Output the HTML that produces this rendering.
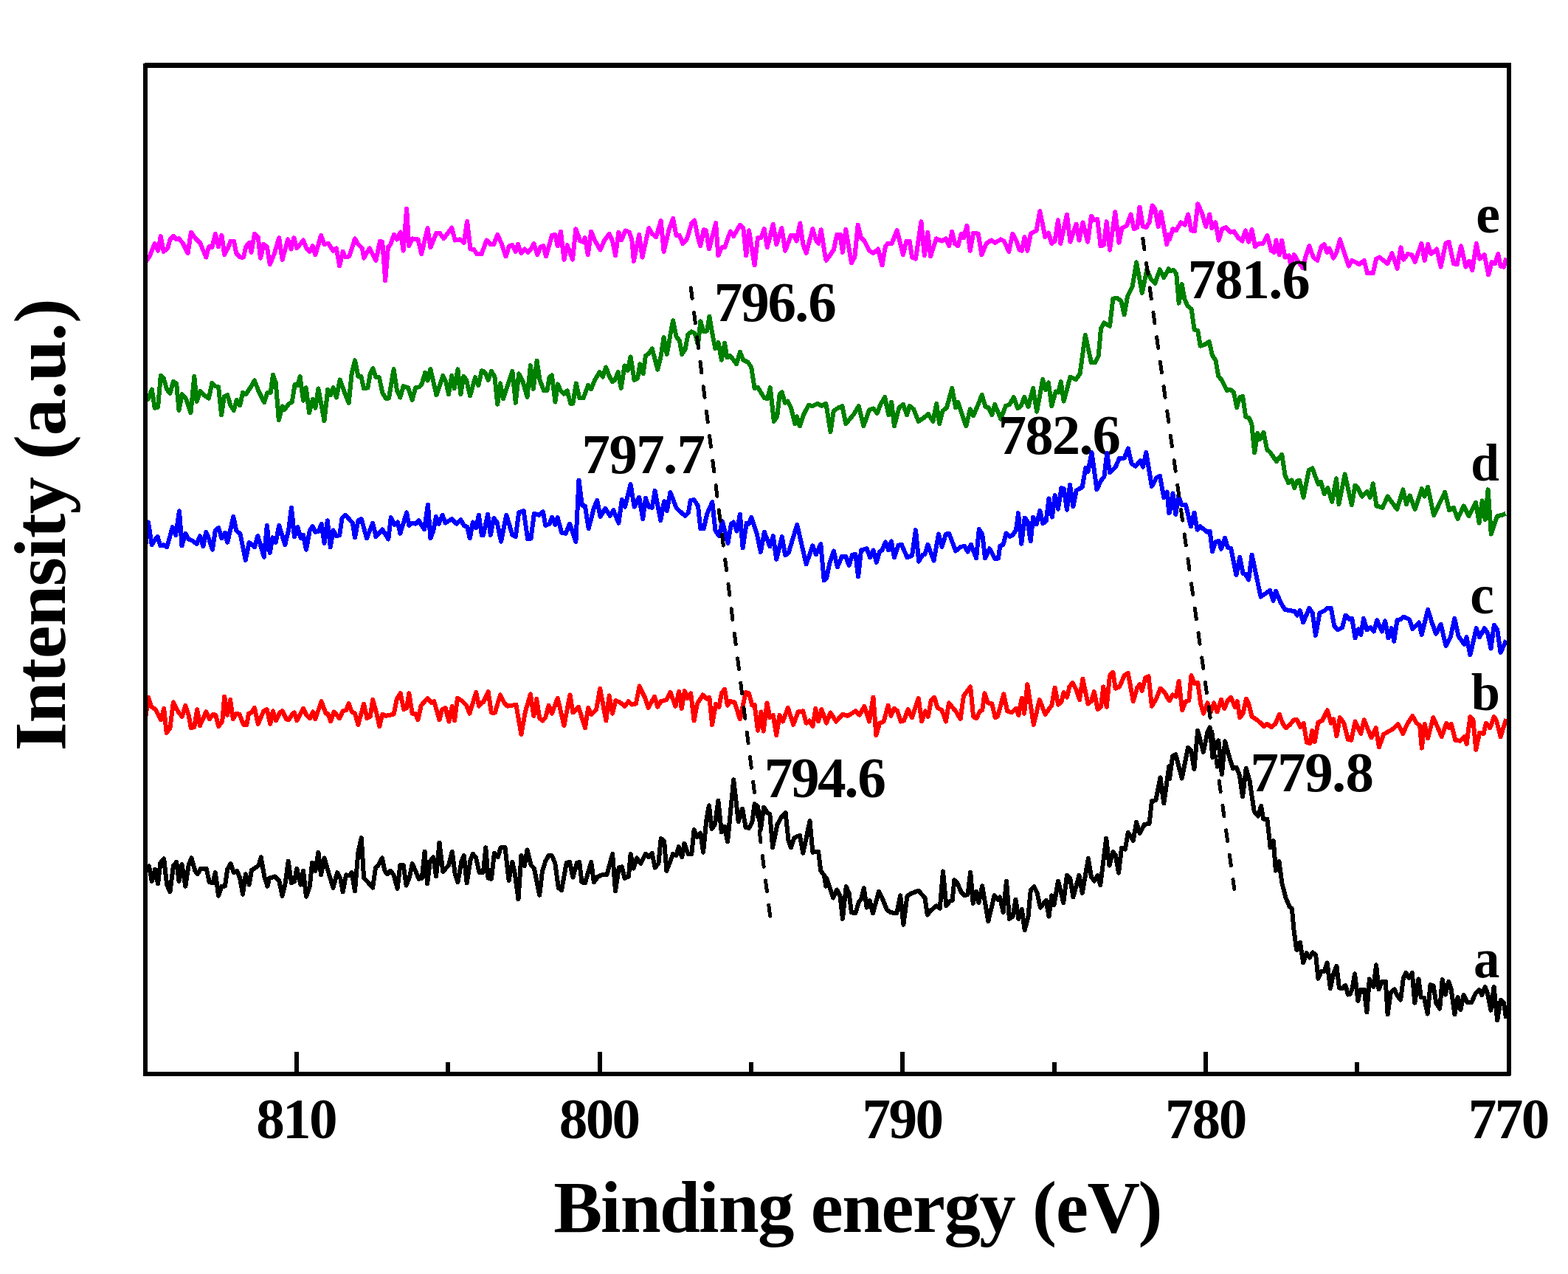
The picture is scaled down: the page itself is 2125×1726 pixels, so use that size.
<!DOCTYPE html>
<html lang="en">
<head>
<meta charset="utf-8">
<title>Intensity (a.u.) vs Binding energy (eV)</title>
<style>
html,body{margin:0;padding:0;background:#fff;}
body{width:2125px;height:1726px;overflow:hidden;}
svg{display:block;}
text{font-family:'Liberation Serif', 'DejaVu Serif', serif;font-weight:bold;fill:#000;}
.cv{fill:none;stroke-width:6;stroke-linejoin:round;stroke-linecap:butt;shape-rendering:crispEdges;}
.ds{fill:none;stroke:#000;stroke-width:5;stroke-linecap:round;stroke-dasharray:14.8 18.93;shape-rendering:crispEdges;}
</style>
</head>
<body>
<svg width="2125" height="1726" viewBox="0 0 2125 1726">
<rect x="0" y="0" width="2125" height="1726" fill="#fff"/>
<defs><clipPath id="plot"><rect x="197" y="88" width="1848" height="1367"/></clipPath></defs>
<g id="curves-back" clip-path="url(#plot)">
<polyline class="cv" stroke="#ff00ff" points="196.6,356.1 203.1,346.3 209.7,329.9 214.1,339.7 217.8,320 221.7,340.8 227.2,336.4 230.5,324.4 234.9,320 239.2,324.4 242.5,323.3 248,329.9 254.6,343 258.9,314.6 264.4,322.2 271,328.8 279.3,348.5 283,334.2 287.4,335.3 291.8,316.7 296.1,334.2 300.5,318.9 304.2,345.2 309.3,335.3 312.5,326.6 316.9,326.6 320.2,343 325.7,348.5 330,348.5 333.3,334.2 337.7,328.8 340.6,341.9 344.9,316.7 349.7,321.1 353,349.6 357.4,331 361.8,334.2 365.7,358.3 371.6,344.1 378.2,322.2 382.6,351.8 390.2,324.4 394.6,337.5 398.3,322.2 402.3,336.4 411,325.5 415.4,336.4 419.8,340.8 423.7,333.2 427.4,345.2 435.1,318.9 439.5,331 444.9,329.9 451.5,339.7 455.9,336.4 460.2,360.5 464.6,340.8 467.9,348.5 473.4,347.4 481,323.3 485.4,331 490.9,336.4 493.1,349.6 500.7,336.4 509.5,352.8 515,326.6 518.2,327.7 522.2,380.2 525.9,335.3 529.2,331 534,317.8 537.9,324.4 542.7,314.6 546.7,339.7 551.1,282.8 554.3,333.2 558.7,323.3 566.4,324.4 571.2,344.1 579.5,309.1 583.4,335.3 591.5,315.6 595.9,315.6 601.4,323.3 612.3,308.6 616.7,325.5 623.3,324.4 628.7,328.8 633.1,299.9 637.5,337.5 641.9,337.5 646.2,344.1 652.8,344.1 655,337.5 659.4,325.5 664.8,331 669.2,331 674.3,317.8 679.1,328.8 685.6,347.4 690,333.2 694.4,332.1 698.8,340.8 702,331 706.4,343 710.8,337.5 715.2,341.9 719.6,337.5 723.5,329.9 728.3,345.2 732.7,334.2 736.4,333.2 739.9,347.4 744.7,331 748,318.9 752.4,317.8 755.7,333.2 760,313.5 764.4,351.8 768.8,332.1 776,351.8 780.4,310.2 786.3,326.6 789.6,327.7 792.9,322.2 796.8,345.2 801.2,313.5 806,325.5 813.6,338.6 819.1,325.5 825.7,316.7 830.1,326.6 834,346.3 838.4,314.6 842.1,325.5 847.6,312.4 853,314.6 856.3,324.4 858.9,353.9 866.2,317.8 870.5,348.5 879.3,309.1 883.7,316.7 889.1,321.1 895.7,299.2 899.6,340.8 906.6,311.3 912.1,296 916.5,318.9 920.9,318.9 925.2,329.9 930.7,324.4 937.3,302.5 941.2,298.6 946,322.2 949.3,333.2 953.7,311.3 957,312.4 960.9,337.5 970.1,302.1 973.4,346.3 977.8,335.3 982.1,335.3 989.8,313.5 994.2,320 1002.9,304.7 1007.3,309.1 1011.2,346.3 1015,312.4 1022.6,359.4 1027,322.2 1031.4,322.2 1035.8,310.2 1039.7,335.3 1047.8,303.6 1052.2,331 1059.4,309.1 1064.2,339.7 1071.9,318.9 1076.2,318.9 1079.5,326.6 1084.3,302.5 1088.3,331 1092.6,343 1101.4,310.2 1105.8,325.5 1109.1,329.9 1112.8,311.3 1118.9,350.7 1120,352.8 1124.4,346.3 1129.8,338.6 1134.2,317.8 1138.6,317.8 1141.9,341.9 1146.3,310.8 1153.9,356.1 1158.3,348.5 1162.7,304.7 1167,322.2 1171.4,326.6 1178,339.7 1183.5,343 1190,337.5 1195.5,359.4 1199.9,334.2 1203.2,329.9 1208.6,329.9 1215.6,311.9 1223.9,345.2 1228.3,326.6 1232.7,326.6 1236,348.5 1241,350.7 1248.4,300.3 1252.8,346.3 1257.2,314.6 1261.1,347.4 1268.8,323.3 1276.5,326.6 1281.9,323.3 1286.3,333.2 1290.2,313.5 1294,329.9 1298.3,333.2 1302.7,316.7 1306,322.2 1310.4,305.8 1314.8,339.7 1319.1,315.6 1325.7,316.7 1330.5,345.2 1336.6,329.9 1343.2,325.5 1348.7,328.8 1356.3,324.4 1360.7,326.6 1367.3,340.8 1372.3,316.7 1377.1,325.5 1381.5,338.6 1384.8,339.7 1388.5,321.1 1392.4,339.7 1396.8,316.7 1404.5,312.4 1409.3,286.1 1416.5,321.1 1420.9,315.6 1425.3,329.9 1429.6,326.6 1434,298.1 1437.3,329.9 1446,290.5 1450.4,327.7 1458.5,303.6 1462.5,325.5 1467.5,301.4 1474.1,327.7 1478.9,292.7 1483.2,298.1 1487.2,297 1491.6,333.2 1495.9,332.1 1499.7,300.3 1504,338.6 1511.3,287.2 1516.5,328.8 1520.4,309.1 1527,305.8 1532.5,290.5 1536.9,310.2 1541.2,308 1544.5,280.6 1548.9,306.9 1553.3,308 1557.6,301.4 1561.6,278.4 1565.3,282.8 1569.7,306.9 1573.4,287.2 1581.3,331 1584.3,317.8 1585,324.4 1589.4,310.2 1593.8,312.4 1600.3,301.4 1605.8,304.7 1610.2,290.5 1614.5,312.4 1618.9,313.5 1623.3,276.3 1628.8,288.3 1634.2,306.9 1639.3,290.5 1642.3,309.1 1647.4,301.4 1651.7,325.5 1656.1,310.2 1661.6,308 1667.1,314.6 1672.5,313.5 1678,322.2 1683.5,326.6 1687.8,312.4 1692.2,327.7 1696.6,311.3 1701,334.2 1706.4,329.9 1711.9,329.9 1717.4,318.9 1722.9,339.7 1726.8,341.9 1729.4,325.5 1733.8,345.2 1737.1,325.5 1741.5,348.5 1746.9,346.3 1749.1,359.4 1753.9,345.2 1759,353.9 1765.5,362.7 1769.9,346.3 1774.3,333.2 1779.8,348.5 1785.2,352.8 1790.7,334.2 1794.6,331 1798.4,341.9 1801.6,336.4 1807.1,349.6 1811.5,341.9 1815.9,324.4 1822.4,344.1 1827.9,360.5 1832.3,352.8 1836.6,355 1842.1,358.3 1848.7,352.8 1853.1,370.4 1860.7,370.4 1865.1,350.7 1869.5,348.5 1874.9,352.8 1880.4,357.2 1886.5,343 1893.5,363.8 1898.4,335.3 1902.3,351.8 1907.8,344.1 1913.2,345.2 1917.6,355 1926.4,329.9 1930.7,352.8 1935.1,331 1939.5,344.1 1947.2,337.5 1952.6,361.6 1959.2,329.9 1963.6,327.7 1970.1,357.2 1974.5,358.3 1980,333.2 1986.5,361.6 1990.9,353.9 1995.3,366 2000.8,329.9 2005.1,350.7 2011.7,345.2 2017.2,372.5 2021.6,355 2025.9,357.2 2030.3,344.1 2033.6,360.5 2038,361.6 2041.2,349.6"/>
<polyline class="cv" stroke="#008000" points="196.6,539.6 200.9,540.7 205.8,527.5 209.7,552.7 214.1,551.6 217.8,508.9 221.7,512.2 226.1,527.5 230.5,533 234.9,516.6 239.2,519.9 242.5,556 246.9,534.1 252.4,540.7 258.5,559.3 263.3,510 266.6,543.9 271.4,529.7 276.4,535.2 283,539.6 287.4,518.8 291.8,523.2 296.1,524.2 300.1,562.5 303.8,537.4 308.2,535.2 312.5,549.4 316.9,556 320.6,541.8 325.2,549.4 329,531.9 333.3,534.1 339.9,524.2 344.9,515.5 350.8,530.8 358.1,545 362.4,531.9 366.8,531.9 369.9,507.8 373.8,518.8 377.8,569.1 382.6,550.5 385.8,554.9 391.3,547.2 395.7,545 399.6,521 403.4,522.1 406.6,510 411,542.8 414.7,525.3 419.1,559.3 424.1,540.7 427.4,552.7 431.4,526.4 439.5,570.2 444.3,527.5 448.2,535.2 451.5,525.3 455.9,538.5 460.7,514.4 466.2,529.7 472.7,546.1 476.7,505.6 481,488.1 485.4,510 489.4,510 493.1,526.4 498.5,525.3 501.8,505.6 505.5,499.1 509.5,511.1 513.9,511.1 518.2,531.9 522.6,539.6 527,539.6 533.6,500.2 537.9,528.6 542.3,538.5 546.7,523.2 553.2,525.3 558.7,541.8 563.1,525.3 568.6,524.2 571.8,519.9 576.2,504.6 579.5,515.5 583.4,500.2 591.5,535.2 600.3,508.9 604.2,516.6 608,534.1 612.3,508.9 615.6,526.4 620.4,500.2 624.4,534.1 628.3,510 632,514.4 637.1,536.3 644.1,511.1 648.4,522.1 652.8,502.4 655,503 658.3,506.3 661.6,515 665.9,503 670.3,509.6 674.3,547.9 678,519.4 681.9,540.2 687.8,522.7 694.4,503 698.8,545.7 703.1,506.3 708.6,517.2 714.5,538 718.9,495.3 722.8,527.1 727.6,488.8 731.6,515 737.1,529.3 741.4,529.3 744.7,510.7 748,508.5 752.4,544.6 755.7,520.5 760,529.3 764.4,533.6 768.8,529.3 773.2,546.8 776.4,546.8 780.8,519.4 785.2,539.1 790.7,539.1 797.2,521.6 801.2,527.1 806,515 812.6,504.1 816.9,510.7 821.3,497.5 825.7,509.6 830.1,517.2 833.3,515 837.7,504.1 841.7,526 846.5,495.3 850.8,501.9 854.6,483.3 859.6,515 864,512.8 867.3,493.2 871.6,506.3 874.9,482.2 879.3,478.9 883.7,472.4 891.3,500.8 895.7,482.2 899.6,457 903.8,480 908.8,451.6 912.1,434.1 916.5,456 920.9,461.4 924.2,480 928.5,473.5 932.5,452.7 937.3,449.4 941.7,451.6 946,466.9 949.3,435.2 953.7,449.4 958.1,448.3 961.4,428.6 965.7,453.8 969.4,472.4 973.4,463.6 977.8,487.7 982.1,464.7 985.4,484.4 989.8,482.2 998.1,493.2 1002.9,476.7 1007.3,487.7 1013.9,491 1018.2,497.5 1022.6,526 1027,524.9 1035.8,539.1 1040.1,540.2 1043.8,524.9 1048.9,570.8 1053.3,564.3 1056.5,534.7 1059.8,531.4 1063.8,545.7 1067.5,543.5 1071.9,552.2 1077.3,574.1 1080,564.3 1083.9,577.4 1089.4,561 1095.9,549 1101.4,550 1108,546.8 1113.4,550 1118.9,546.8 1120,550.1 1125.5,585.1 1129.8,556.6 1136.4,552.3 1141.4,550.1 1146.3,574.1 1157.2,561 1163.8,550.1 1170.3,577.4 1178,555.5 1183.5,553.4 1188.9,559.9 1193.3,547.9 1199.2,538 1204.2,562.1 1208.2,544.6 1211.9,577.4 1218.5,552.3 1223.9,547.9 1229,562.1 1232.7,550.1 1238.2,554.4 1244.7,570.9 1251.3,566.5 1257.9,561 1264.4,570.9 1269.2,546.8 1273.2,574.1 1277.6,556.6 1283,552.3 1290.2,526 1295.1,552.3 1298.3,544.6 1309.3,577.4 1314.8,554.4 1319.1,563.2 1325.7,547.9 1330.7,534.8 1335.5,551.2 1339.9,552.3 1344.3,562.1 1348.2,547.9 1356.3,567.6 1362.9,550.1 1368.4,547.9 1373.8,538 1379.3,553.4 1383.7,550.1 1388.1,538 1393.5,551.2 1400.1,526 1405.1,557.7 1413.2,514 1417.2,528.2 1420.9,518.3 1425.3,550.1 1430.7,530.4 1434.4,531.5 1437.7,517.2 1441.7,543.5 1450.4,510.7 1458.1,514 1463.6,506.3 1470.8,453.8 1478.9,491 1484.3,491 1488.7,482.2 1492,445 1496.4,437.4 1504,441.8 1508.4,404.6 1513.9,403.5 1519.4,407.8 1523.7,426.4 1528.1,401.3 1534.7,388.1 1540.1,355.3 1547.8,396.9 1554.4,365.2 1559.8,378.3 1565.3,383.8 1571.9,365.2 1577.3,376.1 1583.9,364.1 1585,367.4 1590.8,366 1594.3,371.3 1597.7,410.7 1601.7,385.2 1605.4,404.9 1609.3,414.2 1614.7,418.8 1618.6,446.6 1623.2,447.8 1626.7,468.7 1633.7,466.3 1638.8,462.9 1643,481.4 1647.6,488.4 1651.1,509.2 1655.7,515 1662.7,528.9 1667.3,527.8 1671.9,531.2 1676.1,552.1 1680,538.2 1684.2,537 1688.2,564.9 1692.8,566 1696.3,574.1 1700.2,613.5 1704.4,586.9 1707.9,595 1712.5,585.7 1717.1,608.9 1721.8,613.5 1729.9,625.1 1737.3,615.8 1741.5,643.7 1746.1,654.1 1750.7,650.6 1754.2,661 1757.7,651.8 1761.2,650.6 1766.5,673.8 1773.9,636.7 1778.6,634.4 1786.7,656.4 1790.1,652.9 1794.8,669.2 1799.4,661 1805.2,679.6 1811,648.3 1814.5,683.1 1822.6,642.5 1831.9,684.2 1836.5,657.6 1840,661 1845.8,672.6 1852.7,665.7 1856.7,673.8 1860.8,655.3 1865.5,685.4 1873.6,687.7 1880.6,672.6 1893.3,690 1901.4,663.4 1906,683.1 1910.7,671.5 1917.6,690 1926.9,662.2 1930.4,672.6 1935,659.9 1943.1,698.1 1958.2,666.8 1964,691.2 1969.8,687.7 1975.6,702.8 1983.7,685.4 1990.7,699.3 1999.9,680.8 2004.6,708.6 2008.7,678.4 2012.7,703.9 2016.6,663.4 2020.8,723.6 2028.9,699.3 2034.7,698.1 2040.5,695.8"/>
</g>
<g id="peak-labels">
<text font-size="77.04" x="967.8 1004.2 1040.6 1077.1 1095.3" y="434.8">796.6</text>
<text font-size="76.32" x="1609.7 1646.2 1682.7 1719.3 1737.5" y="404">781.6</text>
<text font-size="76.89" x="788.6 825.4 862.3 899.1 917.6" y="640.7">797.7</text>
<text font-size="76.76" x="1352.8 1389.3 1425.8 1462.4 1480.6" y="614.9">782.6</text>
<text font-size="77.33" x="1035.7 1071.9 1108 1144.2 1162.3" y="1080">794.6</text>
<text font-size="76.91" x="1694.5 1731.3 1768.2 1805.1 1823.5" y="1072.1">779.8</text>
</g>
<g id="curves-front" clip-path="url(#plot)">
<polyline class="cv" stroke="#0000ff" points="196.6,744.7 200.9,707.5 205.8,738.2 209.7,731.6 213.6,727.2 217.4,739.3 221.7,738.2 226.1,741.4 230.5,726.1 233.8,714.1 238.1,725 243,692.2 246.5,739.3 251.3,722.8 255.6,730.5 261.1,732.7 266.6,737.1 271,726.1 275.3,740.4 279.3,720.7 283,729.4 288,744.7 291.8,718.5 296.1,715.2 300.5,729.4 304.9,721.8 308.2,734.9 316.3,699.9 320.2,718.5 325.7,723.9 332.7,759 337.7,734.9 344.9,741.4 349.3,726.1 357.8,754.6 361.8,711.9 365.7,749.1 369.4,728.3 373.8,734.9 378.2,711.9 386.3,738.2 391.3,717.4 395,687.8 399,727.2 403.4,714.1 407.7,729.4 411,725 415,744.7 419.8,718.5 423.7,713 427.4,720.7 431.8,719.6 435.7,709.7 439.5,736 443.8,705.3 447.8,741.4 451.5,718.5 455.9,726.1 460.2,725 463.5,702.1 468.3,697.7 477.8,708.6 481,728.3 485.4,705.3 489.8,703.2 497,729.4 505.1,708.6 509.5,727.2 518.2,717.4 526.3,730.5 529.8,701 534.6,710.8 539,707.5 542.3,722.8 551.1,694.4 554.3,711.9 558.7,708.6 563.1,709.7 567.5,705.3 575.1,717.4 579.9,683.5 583.4,729.4 587.2,719.6 590.9,699.9 594.8,709.7 599.6,697.7 603.6,708.6 612.3,703.2 618.9,709.7 624.4,704.2 628.7,711.9 633.1,714.1 636.8,729.4 640.8,707.5 645.2,715.2 648.9,697.7 652.8,725 655,725 661.1,696.6 664.8,725 669.2,702.1 673.6,707.5 679.1,733.8 686.3,697.7 694.4,725 698.8,727.2 703.1,694.4 709.7,692.2 715.2,730.5 719.6,729.4 723.9,695.5 730.5,697.7 736,693.3 739.2,711.9 744.7,709.7 748,701 752.4,710.8 755.7,701 761.1,721.8 766.6,722.8 772.1,709.7 780.4,733.8 784.5,650.6 788.9,684.6 792.9,685.6 797.7,716.3 804.9,687.8 809.3,678 813.6,699.9 820.2,688.9 826.8,698.8 831.2,691.1 838.4,708.6 842.8,676.9 847.1,686.7 854.6,656.1 859.6,686.7 866.2,673.6 871.2,703.2 874.9,674.7 879.3,686.7 883.7,687.8 887.6,664.9 895.3,705.3 900.1,679.1 903.8,692.2 908.4,667 916.5,687.8 922,693.3 928.5,698.8 932.9,694.4 935.8,678 940.6,676.9 946,685.6 949.3,716.3 953.7,716.3 958.1,696.6 965.3,680.2 969.4,718.5 974.5,726.1 978.9,706.4 986.5,736 990.9,709.7 994.2,707.5 998.6,719.6 1002.9,696.6 1006.6,742.5 1011.7,708.6 1015,709.7 1018.2,701 1025.9,723.9 1030.9,748 1035.8,720.7 1043.4,740.4 1047.8,726.1 1052.2,757.9 1059.8,727.2 1064.2,752.4 1068.6,749.1 1080.2,710.8 1092.6,764.4 1101.4,739.3 1105.8,751.3 1112.3,737.1 1116.7,786.3 1120,783.7 1124.4,762.9 1129.8,746.5 1134.9,768.3 1140.8,754.1 1146.3,754.1 1150.6,766.2 1155,751.9 1159.4,750.8 1163.1,781.5 1167,745.4 1174.7,743.2 1179.1,755.2 1183.5,745.4 1187.8,761.8 1192.2,747.6 1195.5,745.4 1199.9,734.4 1204.2,745.4 1208,733.3 1211.9,755.2 1217.4,738.8 1221.8,737.7 1229.4,755.2 1236,753 1241,718 1245.2,760.7 1250.2,751.9 1253.5,750.8 1257.4,737.7 1265.5,759.6 1272.1,723.5 1276.5,741 1281.9,723.5 1286.3,723 1295.1,746.5 1301.6,741 1307.1,739.9 1311.5,747.6 1315.8,737.7 1323.1,756.3 1326.8,716.9 1331.2,723.5 1335.1,756.3 1341,743.2 1348.7,757.4 1353,756.3 1355.2,739.9 1359.6,737.7 1363.6,722.4 1368.4,726.8 1372.7,724.6 1377.1,718 1380,695 1384.3,736.6 1388.7,701.6 1392.4,706 1396.8,733.3 1400.1,700.5 1404.5,710.4 1409.5,691.8 1413.2,709.3 1417.6,706 1421.5,675.3 1425.9,700.5 1429.6,671 1434,689.6 1438.4,661.1 1441.7,662.2 1446,690.7 1450,656.7 1454.4,686.3 1458.7,664.4 1466.8,660 1471.2,633.8 1474.5,639.2 1479.5,613 1486.5,663.3 1492,651.3 1496.4,645.8 1500.3,614.1 1504,640.3 1511.7,632.7 1517.2,620.6 1523.7,620.6 1528.8,607.5 1533.6,628.3 1539,631.6 1545.6,623.9 1548.9,632.7 1553.3,613 1560.9,658.9 1567.5,646.9 1571.9,644.7 1577.3,674.2 1581.7,666.6 1584.3,695 1585,694.7 1589.4,668.4 1593.3,696.9 1597,671.7 1601.4,683.8 1606.9,683.8 1613.9,713.3 1618.5,694.7 1622.6,717.7 1626.6,713.3 1636.4,721 1639.7,719.9 1643,747.2 1647.4,734.1 1651.7,733 1655,743.9 1660.1,728.6 1663.8,741.8 1668.2,742.8 1675.4,779 1680.2,754.9 1684.6,776.8 1687.8,777.9 1692.2,785.5 1696.6,751.6 1701,772.4 1708.6,808.5 1715.2,804.1 1721.1,799.7 1725.5,814 1729,800.8 1736,817.2 1741.5,826 1748,827.1 1754.6,828.2 1757.9,833.7 1761.8,827.1 1766.2,843.5 1774.3,823.8 1778.7,830.4 1783,861 1788.5,830.4 1795.1,827.1 1799.4,823.8 1803.8,823.8 1808.2,847.9 1812.6,853.4 1819.1,850.1 1823.5,833.7 1829,839.1 1832.3,838 1836.6,864.3 1841,852.3 1844.3,859.9 1848,838 1852.4,853.4 1857.4,850.1 1861.8,855.5 1866.2,840.2 1872.8,855.5 1877.1,841.3 1881.5,864.3 1885.9,851.2 1889.2,868.7 1893.5,840.2 1897.9,839.1 1902.3,835.8 1910,839.1 1914.3,852.3 1923.1,843.5 1926.8,859.9 1935.1,826 1940.6,843.5 1946.1,858.8 1952.6,845.7 1959.6,875.2 1965.8,863.2 1971.2,838 1976.7,862.1 1984.4,873 1987.6,863.2 1992.4,887.3 2000.8,851.2 2005.1,863.2 2011.7,851.2 2016.1,857.7 2020.5,878.5 2024.8,846.8 2029.2,853.4 2033.6,884 2041.2,867.6"/>
<polyline class="cv" stroke="#ff0000" points="197,974.2 200.9,944.7 205.3,957.8 210.8,961.1 218,975.3 222.2,960 225.7,992.8 230.5,986.3 234.9,951.3 241.4,964.4 246.9,971 251.3,955.6 255.6,968.8 258.9,986.3 263.3,985.2 267.2,961.1 271,983 279.3,964.4 284.1,974.2 288.5,967.7 292.4,968.8 296.1,984.1 301.2,977.5 304.2,943.6 308.2,968.8 312.1,948 315.8,974.2 320.2,966.6 324.6,967.7 330,981.9 334.4,981.9 337,966.6 341,965.5 344.9,958.9 349.7,980.8 357.4,963.3 361.8,961.1 366.2,980.8 369.9,963.3 373.8,976.4 379.3,965.5 382.6,963.3 388,974.2 391.3,975.3 396.8,966.6 399,965.5 402.3,976.4 411,960 415.4,968.8 420.2,973.2 424.1,964.4 427.4,974.2 435.5,950.2 441.6,966.6 444.3,966.6 448.2,977.5 452.6,964.4 460.2,973.2 464.6,963.3 469,962.2 472.7,953 476.7,964.4 481,966.6 485.4,981.9 493.1,953.5 497.4,973.2 501.8,971 505.1,948 509.9,964.4 514.3,984.1 518.2,967.7 522.6,969.9 533.6,967.7 537.9,946.9 542.7,939.2 547.1,961.1 551.1,958.9 554.3,939.2 558.7,966.6 563.1,966.6 566.4,975.3 570.8,955.6 579.5,945.8 585,952.4 588.3,950.2 595.5,975.3 599.2,961.1 603.6,958.9 608.4,977.5 612.8,956.7 616,976.4 620,945.8 625.5,949.1 632,955.6 636.4,966.6 645.2,938.1 649.1,956.7 653.9,951.3 655,951.3 661.6,937 665.9,965.5 670.8,965.5 678,941.4 683.4,952.4 687.8,956.7 694.4,955.6 699.4,954.6 706.4,995 711.9,964.4 718.9,940.3 723.3,969.9 727.2,946.9 731.2,973.2 735.5,976.4 739.2,972.1 743.6,955.6 748,966.6 755.7,945.8 764.4,983 772.5,941.4 776.4,965.5 784.1,957.8 792.9,986.3 797.2,958.9 801.6,967.7 808.2,961.1 813.2,932.7 821.3,976.4 825.7,942.5 830.1,966.6 834.4,949.1 839.9,951.3 846.5,956.7 851.9,950.2 856.3,954.6 861.8,953.5 866.6,929.4 873.8,944.7 878.6,958.9 887,943.6 891.3,957.8 895.7,950.2 903.4,948 908.4,937.7 915.4,956.7 920.2,937 923.7,960 927.9,936 931.8,945.8 936.2,939.2 940.6,976.4 944.9,953.5 952.6,941.4 958.1,946.9 961.4,944.7 965.1,981.9 970.1,953.5 974.5,957.8 977.8,939.2 982.1,933.8 985.9,955.6 989.8,950.2 995.3,951.3 1002.9,974.2 1010.6,938.1 1015,939.2 1019.3,955.6 1022.6,954.6 1027,989.6 1031.4,964.4 1034.7,990.7 1039.5,952.4 1043.4,972.1 1047.8,968.8 1052.2,996.1 1056.5,968.8 1060.9,977.5 1067.9,958.9 1075.1,981.9 1081.7,964.4 1088.3,963.3 1092.6,979.7 1097,976.4 1101.4,984.1 1105.3,960 1109.1,977.5 1113.4,961.1 1118.9,976.4 1120,979.7 1125.5,965.5 1133.1,977.5 1141.9,967.7 1148.4,969.9 1152.8,967.7 1159.4,963.3 1164.9,968.8 1171.4,956.7 1178,977.5 1183.5,944.7 1187.4,996.1 1192.2,979.7 1197.7,977.5 1203.6,955.6 1207.5,969.9 1211.9,960 1216.3,963.3 1220.7,977.5 1225,976.4 1230.5,961.1 1236,972.1 1244.7,945.8 1249.1,977.5 1253.9,963.3 1257.9,971 1261.8,949.1 1266.2,944.7 1270.6,958.9 1276.5,962.2 1281.9,977.5 1285.9,952.4 1295.1,963.3 1301.6,974.2 1306,942.5 1310.4,937 1315.2,930.5 1319.1,971 1323.5,973.2 1327.9,963.3 1331.2,962.2 1334.4,939.2 1338.8,952.4 1344.3,953.5 1348.7,972.1 1352,971 1360.3,940.3 1365.1,963.3 1370.6,965.5 1377.1,960 1380.4,968.8 1384.8,945.8 1388.1,966.6 1392.4,927.2 1400.8,981.9 1408.8,948 1416.5,967.7 1425.3,955.6 1429.6,931.6 1434,954.6 1438.4,951.3 1441.7,938.1 1446,944.7 1449.3,930.5 1453.7,925 1458.1,933.8 1463.1,948 1467.3,919.5 1474.5,953.5 1478.9,950.2 1482.8,937 1487.6,961.1 1492,957.8 1495.3,930.5 1499.7,957.8 1504,915.2 1508.4,910.8 1511.7,932.7 1517.2,930.5 1523.7,915.2 1528.8,911.9 1535.8,950.2 1541.2,931.6 1544.5,927.2 1547.8,936 1552.2,918.4 1556.6,916.3 1560.9,956.7 1566.4,948 1572.5,932.7 1578.4,938.1 1584.3,949.1 1585,949.1 1589.4,941.4 1593.8,943.6 1597.7,922.8 1602.1,962.2 1606.9,950.2 1611.3,949.1 1614.5,915.2 1618.9,926.1 1623.3,925 1627.2,953.5 1631,966.6 1636.4,952.4 1640.8,964.4 1645.2,952.4 1649.6,964.4 1655,948 1659.4,960 1663.8,949.1 1668.2,944.7 1673.6,957.8 1676.9,950.2 1680.2,972.1 1684.6,966.6 1688.9,946.9 1692.2,953.5 1696.6,971 1702.1,974.2 1707.5,978.6 1713,984.1 1717.4,980.8 1722.9,985.2 1728.3,980.8 1733.8,967.7 1738.2,979.7 1742.6,986.3 1748,981.9 1753.5,975.3 1757.9,975.3 1762.2,985.2 1766.6,979.7 1771,1006 1775.4,1007.1 1778.2,989.6 1781.9,1004.9 1786.3,978.6 1791.8,976.4 1799,962.2 1803.8,979.7 1807.1,974.2 1811.5,997.2 1815.9,972.1 1821.3,979.7 1826.8,1001.6 1831.2,1002.7 1836.6,977.5 1844.3,993.9 1848.7,975.3 1858.5,999.4 1864.7,986.3 1869,1012.5 1874.9,995 1880.4,991.8 1888.1,987.4 1894.6,980.8 1901.2,993.9 1907.8,979.7 1914.3,969.9 1919.8,979.7 1924.2,983 1926.8,1013.6 1930.7,980.8 1935.1,1000.5 1942.3,972.1 1949.3,987.4 1953.7,998.3 1960.3,979.7 1963.6,986.3 1966.8,980.8 1972.3,1002.7 1978.9,1003.8 1984.4,998.3 1987.6,1008.2 1992.4,971 1996.4,975.3 2000.3,1015.8 2005.1,992.8 2010.6,993.9 2013.9,979.7 2019.4,986.3 2024.8,971 2028.1,976.4 2033.6,998.3 2041.2,974.2"/>
<polyline class="cv" stroke="#000000" points="196.6,1183.2 202,1173.3 205.8,1194.1 210.1,1177.7 214.1,1197.4 217.4,1168.9 222.2,1163.5 226.1,1198.5 230.5,1208.3 234.9,1173.3 239.2,1167.8 242.5,1194.1 246.5,1171.1 251.3,1200.7 255.6,1172.2 259.4,1162.4 264.4,1179.9 267.7,1184.2 272.1,1176.6 279.7,1176.6 283.7,1195.2 288.5,1196.3 291.8,1182.1 296.1,1213.8 300.5,1200.7 304.9,1200.7 308.2,1177.7 312.5,1170 316.9,1182.1 321.3,1179.9 325.2,1189.7 329,1211.6 332.9,1184.2 337.7,1198.5 341,1178.8 346.5,1175.5 350.8,1172.2 353.7,1161.3 358.5,1188.6 362.4,1200.7 365.1,1189.7 372.7,1187.5 378.2,1193 382.6,1213.8 386.9,1195.2 390.7,1166.7 395,1196.3 399,1194.1 402.3,1176.6 407.3,1198.5 411,1179.9 415,1214.9 419.8,1200.7 423,1168.9 427.4,1179.9 431.4,1154.7 435.1,1185.3 439.5,1162.4 444.9,1181 451.5,1202.8 457,1182.1 461.3,1189.7 464.6,1208.3 469,1185.3 473.4,1186.4 476.7,1182.1 481,1207.2 485.4,1154.7 489.8,1135 493.1,1189.7 498.5,1195.2 505.1,1202.8 509,1175.5 512.8,1172.2 517.8,1162.4 521.5,1179.9 524.8,1184.2 529.2,1179.9 533.6,1185.3 538.6,1203.9 542.3,1172.2 546.7,1172.2 550.6,1199.6 555,1188.6 558.7,1170 563.1,1179.9 567.5,1190.8 571.8,1189.7 575.6,1153.6 579.1,1197.4 582.8,1166.7 587.2,1161.3 591.1,1187.5 595.5,1141.6 600.3,1181 608,1172.2 612.8,1153.6 616.7,1184.2 620.4,1195.2 625.5,1166.7 628.7,1159.1 632.7,1196.3 637.5,1165.6 640.8,1156.9 645.2,1162.4 649.5,1182.1 653.9,1182.1 655,1181 658.3,1148.2 661.6,1189.7 665.9,1190.8 669.9,1155.8 674.7,1161.3 678.6,1148.2 684.5,1148.2 689.6,1193 694.4,1167.9 697.7,1183.2 702.5,1218.2 706.4,1159.1 710.8,1173.3 714.5,1151.4 719.6,1172.2 723.9,1176.6 731.2,1212.7 734.9,1181 739.2,1166.8 743.6,1159.1 748,1159.1 752.4,1170 756.8,1202.9 761.1,1206.2 767.7,1169 772.1,1167.9 776.4,1188.6 781.9,1169 785.2,1167.9 788.5,1195.2 792.9,1196.3 801.2,1167.9 804.9,1195.2 810.4,1187.6 815.8,1185.4 822.4,1185.4 830.1,1156.9 834,1207.2 838.8,1175.5 842.8,1174.4 846.5,1189.7 851.9,1187.6 854.6,1156.9 858.5,1176.6 862.9,1162.4 868.4,1170 874.9,1156.9 879.3,1161.3 883.7,1155.8 887.6,1175.5 892.4,1170 895.7,1136.1 900.1,1139.4 903.4,1179.9 912.1,1156.9 916.5,1159.1 919.8,1147.1 924.2,1161.3 927.4,1142.7 932.5,1156.9 937.3,1156.9 940.6,1124.1 944.9,1133.9 949.3,1128.5 953,1154.7 957.6,1108.8 960.9,1091.3 964.6,1123 969,1116.4 973.4,1084.7 977.8,1127.4 982.1,1119.7 986.1,1140.5 994.2,1056.3 1000.7,1113.2 1006.2,1095.6 1010.6,1120.8 1015,1121.9 1019.3,1114.2 1022.6,1089.1 1027,1092.4 1030.9,1124.1 1035.1,1093.5 1040.1,1101.1 1043.4,1103.3 1047.1,1148.2 1053.3,1117.5 1059.8,1105.5 1064.6,1101.1 1068.6,1139.4 1071.9,1148.2 1076.2,1135 1083.9,1131.8 1088.3,1155.8 1093.7,1130.7 1097.5,1112.1 1101.4,1154.7 1109.1,1153.6 1112.3,1179.9 1116.7,1185.4 1119.3,1200.7 1120,1189.1 1124.4,1202.3 1129.2,1216.5 1134.2,1205.5 1138.6,1214.3 1141.9,1244.9 1146.7,1201.2 1150.6,1209.9 1153.9,1236.2 1159.4,1237.3 1163.8,1222 1167,1218.7 1170.8,1203.4 1174.7,1229.6 1178.6,1219.8 1183,1237.3 1191.1,1207.7 1195.5,1216.5 1202.1,1232.9 1207.5,1236.2 1215.2,1237.3 1220.2,1213.2 1224.4,1252.6 1229.4,1214.3 1233.8,1211 1244.7,1206.6 1253.5,1216.5 1256.8,1239.5 1262.2,1232.9 1268.8,1227.4 1273.8,1230.7 1278,1180.4 1282.4,1227.4 1287.4,1220.9 1290.7,1219.8 1293.3,1192.4 1297.2,1195.7 1302.7,1208.8 1307.1,1213.2 1311.5,1212.1 1315.2,1181.5 1318.7,1224.1 1323.1,1207.7 1326.4,1223 1331.2,1200.1 1339.3,1248.2 1347.6,1213.2 1352,1218.7 1355.2,1215.4 1359.6,1236.2 1364,1193.5 1367.9,1244.9 1372.7,1241.6 1376.5,1218.7 1380.4,1244.9 1384.8,1231.8 1388.7,1260.2 1393.5,1241.6 1396.8,1205.5 1401.2,1201.2 1405.6,1209.9 1409.9,1229.6 1417.6,1219.8 1421.5,1241.6 1425.3,1213.2 1428.5,1226.3 1434,1193.5 1441.2,1223 1446,1185.8 1450.4,1190.2 1454.4,1215.4 1462.5,1185.8 1466.8,1209.9 1474.9,1162.9 1478.9,1188 1483.2,1193.5 1487.6,1185.8 1491.3,1199 1499.2,1135.5 1503.4,1172.7 1508.4,1154.1 1511.7,1158.5 1516.1,1182.6 1520,1148.6 1524.8,1150.8 1528.8,1127.9 1535.8,1138.8 1540.1,1113.6 1544.5,1129 1551.1,1116.9 1557.6,1115.8 1560.9,1085.2 1566.4,1084.1 1572.5,1053.5 1577.3,1088.5 1584.3,1038.1 1585,1055.5 1589.2,1024.2 1593.3,1022.1 1601.7,1054.5 1610,1012.8 1614.2,1016.9 1618.4,1042 1623.2,989.8 1630.9,1019 1636.1,992.9 1639.6,985.6 1643.4,1026.3 1647.6,1007.5 1651.3,1003.4 1655.9,1049.3 1660.1,1004.4 1665.3,1023.2 1670.9,1040.9 1675.7,1039.9 1679.9,1050.3 1684.1,1079.5 1688.7,1040.9 1693.5,1057.6 1699.7,1099.3 1704.9,1105.6 1709.1,1092 1712.2,1109.7 1717.4,1109.7 1721.6,1148.3 1725.8,1138.9 1728.9,1179.6 1733.5,1167.1 1737.3,1196.3 1742.5,1216.1 1747.7,1228.6 1750.8,1230.7 1753.5,1260 1757.1,1286.8 1759.9,1286.1 1762,1276.9 1766.2,1304.5 1770.5,1291.1 1774.7,1297.4 1778.9,1290.4 1783.2,1293.9 1786.4,1325.6 1790.9,1315.8 1794.5,1315.8 1798.7,1304.5 1802.9,1339.1 1807.2,1319.3 1811.4,1308.7 1814.9,1338.4 1819.2,1339.1 1823.4,1334.8 1826.9,1347.5 1829.8,1346.8 1832.6,1339.1 1836.1,1319.3 1840.4,1356 1843.9,1340.5 1848.8,1340.5 1852.4,1371.5 1855.9,1326.4 1861.5,1336.9 1865.1,1307.3 1868.6,1340.5 1872.8,1329.9 1877.8,1329.9 1880.6,1374.4 1884.8,1344.7 1889.8,1340.5 1894,1349.6 1898.2,1354.6 1901.8,1325.6 1905.3,1317.9 1909.5,1324.9 1913.8,1317.9 1917.3,1358.8 1922.5,1326.4 1925.8,1351.1 1930,1351.8 1934.7,1373.6 1938.5,1334.1 1942.7,1335.5 1946.2,1358.8 1951.2,1366.6 1954.7,1327.1 1958.9,1347.5 1963.2,1329.9 1966.7,1340.5 1971.4,1374.4 1975.6,1351.1 1979.4,1368 1983.6,1348.2 1988.6,1358.1 1994.2,1358.1 1999.9,1345.4 2004.8,1341.2 2008.4,1348.2 2012.6,1336.9 2016.1,1346.1 2020.4,1368.7 2024.6,1336.9 2029.2,1382.1 2033.8,1354.6 2038,1358.8 2041.1,1380"/>
</g>
<g id="guides">
<line class="ds" x1="936.3" y1="389.8" x2="1043.7" y2="1241.8"/>
<line class="ds" x1="1548.8" y1="323.1" x2="1672.8" y2="1204.5"/>
</g>
<g id="axes" fill="#000" shape-rendering="crispEdges">
<rect x="196" y="85" width="1852" height="7"/>
<rect x="194" y="1452" width="1853" height="6"/>
<rect x="194" y="86" width="6" height="1372"/>
<rect x="2042" y="85" width="6" height="1372"/>
<rect x="399" y="1425" width="6" height="28"/>
<rect x="810" y="1425" width="6" height="28"/>
<rect x="1220" y="1425" width="6" height="28"/>
<rect x="1631.4" y="1425" width="6" height="28"/>
<rect x="604" y="1439" width="6" height="14"/>
<rect x="1015" y="1439" width="6" height="14"/>
<rect x="1426" y="1439" width="6" height="14"/>
<rect x="1836.4" y="1439" width="6" height="14"/>
</g>
<g id="tick-labels">
<text font-size="77.19" x="347.2 383 418.9" y="1542.2">810</text>
<text font-size="77.19" x="757.8 793.7 829.6" y="1542.2">800</text>
<text font-size="77.19" x="1168.6 1204.5 1240.5" y="1542.2">790</text>
<text font-size="77.19" x="1579 1615.4 1651.8" y="1542.2">780</text>
<text font-size="77.19" x="1989.7 2025.7 2061.7" y="1542.2">770</text>
</g>
<g id="curve-letters">
<text transform="matrix(0.7377,0,0,0.7500,2000.22,315.25)" font-size="100" x="0" y="0">e</text>
<text transform="matrix(0.6950,0,0,0.7271,1993.22,651.27)" font-size="100" x="0" y="0">d</text>
<text transform="matrix(0.7351,0,0,0.7521,1992.23,831.25)" font-size="100" x="0" y="0">c</text>
<text transform="matrix(0.7040,0,0,0.7286,1993.84,962.27)" font-size="100" x="0" y="0">b</text>
<text transform="matrix(0.7077,0,0,0.7600,1996.88,1323.62)" font-size="100" x="0" y="0">a</text>
</g>
<g id="axis-titles">
<text font-size="98.93" x="750.2 814.1 840.7 893.9 947.1 973.7 1027 1074.8 1098.8 1141.2 1194.5 1237 1279.4 1327.3 1375.2 1399.1 1431 1473.5 1542.6" y="1669">Binding energy (eV)</text>
<text transform="translate(88.2,1017.5) rotate(-90)" font-size="100.46" x="0 38.1 92.6 125.2 168.7 223.2 261.3 288.6 321.2 370.2 394.7 427.3 476.3 500.8 555.2 579.7" y="0">Intensity (a.u.)</text>
</g>
</svg>
</body>
</html>
